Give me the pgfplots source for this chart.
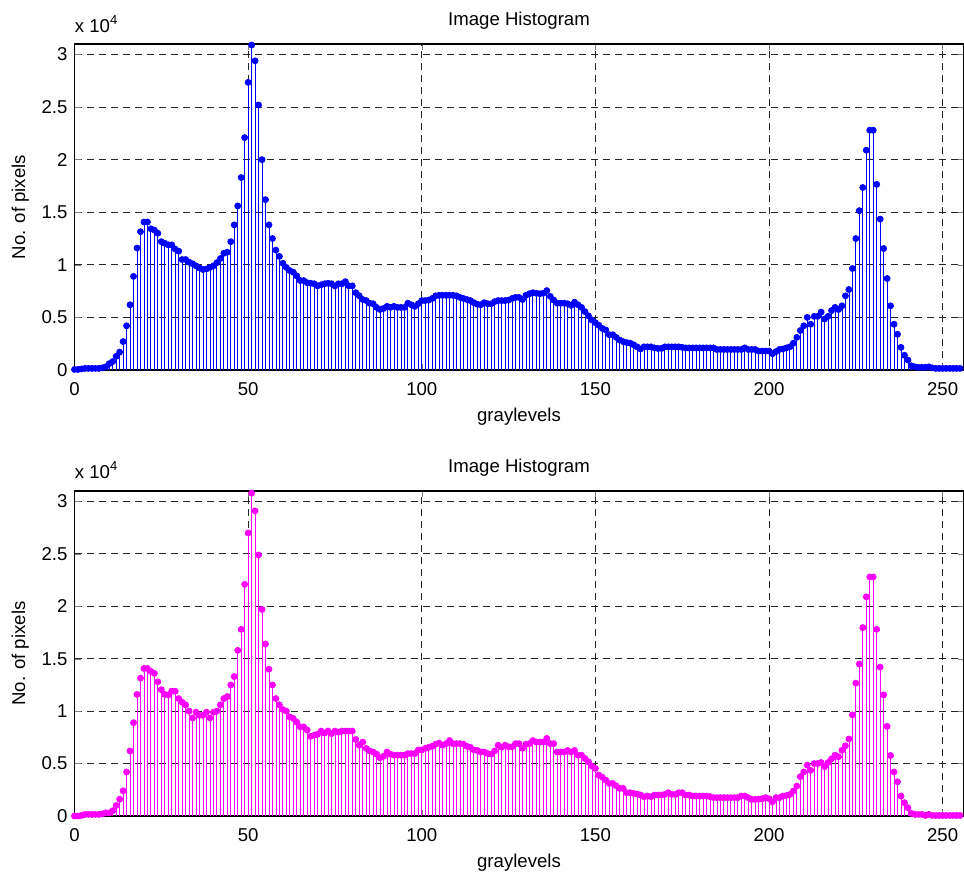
\documentclass[border=0pt]{standalone}
\usepackage{fontspec}
\setmainfont{Liberation Sans}
\usepackage{pgfplots}
\pgfplotsset{compat=1.18}
\usepackage{pgfplotstable}
\definecolor{mlblue}{RGB}{0,0,255}
\definecolor{mlmag}{RGB}{255,0,255}

\pgfplotstableread[row sep=\\]{
x y\\
0 50\\ 1 50\\ 2 100\\ 3 150\\ 4 150\\ 5 150\\ 6 150\\ 7 150\\ 8 200\\ 9 300\\
10 600\\ 11 800\\ 12 1300\\ 13 1700\\ 14 2700\\ 15 4200\\ 16 6200\\ 17 8900\\ 18 11600\\ 19 13150\\
20 14070\\ 21 14070\\ 22 13430\\ 23 13300\\ 24 13000\\ 25 12200\\ 26 12050\\ 27 11900\\ 28 11900\\ 29 11500\\
30 11300\\ 31 10500\\ 32 10500\\ 33 10250\\ 34 10100\\ 35 9900\\ 36 9700\\ 37 9550\\ 38 9600\\ 39 9750\\
40 9900\\ 41 10200\\ 42 10600\\ 43 11100\\ 44 11200\\ 45 12200\\ 46 13800\\ 47 15600\\ 48 18300\\ 49 22100\\
50 27350\\ 51 30900\\ 52 29400\\ 53 25200\\ 54 20000\\ 55 16200\\ 56 13800\\ 57 12500\\ 58 11400\\ 59 10800\\
60 10150\\ 61 9750\\ 62 9450\\ 63 9300\\ 64 8950\\ 65 8500\\ 66 8500\\ 67 8300\\ 68 8250\\ 69 8200\\
70 8000\\ 71 8100\\ 72 8200\\ 73 8250\\ 74 8200\\ 75 8000\\ 76 8200\\ 77 8200\\ 78 8400\\ 79 8000\\
80 8000\\ 81 7350\\ 82 7050\\ 83 6700\\ 84 6600\\ 85 6350\\ 86 6300\\ 87 5950\\ 88 5750\\ 89 5850\\
90 6050\\ 91 5950\\ 92 6050\\ 93 5950\\ 94 5950\\ 95 5950\\ 96 6350\\ 97 6200\\ 98 6050\\ 99 6300\\
100 6600\\ 101 6600\\ 102 6650\\ 103 6800\\ 104 7050\\ 105 7100\\ 106 7100\\ 107 7100\\ 108 7100\\ 109 7100\\
110 7050\\ 111 6900\\ 112 6800\\ 113 6700\\ 114 6600\\ 115 6400\\ 116 6250\\ 117 6200\\ 118 6400\\ 119 6300\\
120 6300\\ 121 6500\\ 122 6600\\ 123 6600\\ 124 6600\\ 125 6650\\ 126 6800\\ 127 6900\\ 128 6900\\ 129 6700\\
130 7100\\ 131 7250\\ 132 7350\\ 133 7300\\ 134 7250\\ 135 7300\\ 136 7550\\ 137 7000\\ 138 6650\\ 139 6350\\
140 6350\\ 141 6350\\ 142 6300\\ 143 6150\\ 144 6450\\ 145 6200\\ 146 5950\\ 147 5550\\ 148 5150\\ 149 4750\\
150 4500\\ 151 4250\\ 152 3950\\ 153 3800\\ 154 3350\\ 155 3350\\ 156 3100\\ 157 2850\\ 158 2700\\ 159 2600\\
160 2550\\ 161 2400\\ 162 2200\\ 163 2000\\ 164 2200\\ 165 2200\\ 166 2200\\ 167 2100\\ 168 2050\\ 169 2050\\
170 2200\\ 171 2200\\ 172 2200\\ 173 2200\\ 174 2200\\ 175 2150\\ 176 2100\\ 177 2100\\ 178 2100\\ 179 2100\\
180 2100\\ 181 2100\\ 182 2100\\ 183 2100\\ 184 2100\\ 185 1950\\ 186 1950\\ 187 1950\\ 188 1950\\ 189 1950\\
190 1950\\ 191 1950\\ 192 1950\\ 193 2100\\ 194 1950\\ 195 1950\\ 196 1950\\ 197 1800\\ 198 1800\\ 199 1800\\
200 1800\\ 201 1550\\ 202 1750\\ 203 1950\\ 204 2000\\ 205 2100\\ 206 2200\\ 207 2550\\ 208 3100\\ 209 3750\\
210 4200\\ 211 5000\\ 212 4350\\ 213 5100\\ 214 5100\\ 215 5500\\ 216 4850\\ 217 5100\\ 218 5650\\ 219 5950\\
220 5750\\ 221 6100\\ 222 7050\\ 223 7650\\ 224 9650\\ 225 12500\\ 226 15150\\ 227 17350\\ 228 20900\\ 229 22800\\
230 22800\\ 231 17650\\ 232 14350\\ 233 11550\\ 234 8700\\ 235 6100\\ 236 4350\\ 237 3400\\ 238 2150\\ 239 1400\\
240 950\\ 241 400\\ 242 300\\ 243 250\\ 244 250\\ 245 250\\ 246 300\\ 247 200\\ 248 150\\ 249 150\\
250 150\\ 251 150\\ 252 150\\ 253 150\\ 254 150\\ 255 150\\
}\topdata

\pgfplotstableread[row sep=\\]{
x y\\
0 0\\ 1 0\\ 2 50\\ 3 150\\ 4 150\\ 5 150\\ 6 150\\ 7 150\\ 8 200\\ 9 300\\
10 300\\ 11 500\\ 12 1000\\ 13 1600\\ 14 2400\\ 15 4200\\ 16 6200\\ 17 8900\\ 18 11600\\ 19 13150\\
20 14070\\ 21 14070\\ 22 13800\\ 23 13600\\ 24 12800\\ 25 12050\\ 26 11600\\ 27 11550\\ 28 11900\\ 29 11900\\
30 11200\\ 31 10850\\ 32 10600\\ 33 10000\\ 34 9350\\ 35 9900\\ 36 9600\\ 37 9600\\ 38 9900\\ 39 9350\\
40 9900\\ 41 10000\\ 42 10600\\ 43 11200\\ 44 11400\\ 45 12500\\ 46 13300\\ 47 15800\\ 48 17800\\ 49 22100\\
50 27000\\ 51 30800\\ 52 29100\\ 53 24900\\ 54 19700\\ 55 16400\\ 56 14000\\ 57 12500\\ 58 11200\\ 59 10600\\
60 10150\\ 61 10000\\ 62 9450\\ 63 9300\\ 64 8950\\ 65 8500\\ 66 8500\\ 67 8200\\ 68 7600\\ 69 7700\\
70 7800\\ 71 8100\\ 72 7900\\ 73 8100\\ 74 7850\\ 75 8100\\ 76 8000\\ 77 8100\\ 78 8100\\ 79 8100\\
80 8100\\ 81 7300\\ 82 6750\\ 83 7050\\ 84 6450\\ 85 6200\\ 86 6100\\ 87 5900\\ 88 5550\\ 89 5700\\
90 6100\\ 91 5900\\ 92 5800\\ 93 5800\\ 94 5800\\ 95 5800\\ 96 5950\\ 97 5950\\ 98 5950\\ 99 6300\\
100 6300\\ 101 6450\\ 102 6550\\ 103 6650\\ 104 6850\\ 105 6950\\ 106 6750\\ 107 6900\\ 108 7200\\ 109 6900\\
110 6900\\ 111 6900\\ 112 6850\\ 113 6650\\ 114 6550\\ 115 6300\\ 116 6250\\ 117 6100\\ 118 6100\\ 119 5950\\
120 5900\\ 121 6200\\ 122 6750\\ 123 6550\\ 124 6750\\ 125 6600\\ 126 6600\\ 127 6900\\ 128 6900\\ 129 6450\\
130 6850\\ 131 6900\\ 132 7200\\ 133 7050\\ 134 7050\\ 135 7050\\ 136 7400\\ 137 6900\\ 138 6900\\ 139 6100\\
140 6100\\ 141 6100\\ 142 6250\\ 143 6100\\ 144 6250\\ 145 5800\\ 146 5800\\ 147 5480\\ 148 5170\\ 149 4750\\
150 4530\\ 151 3900\\ 152 3700\\ 153 3420\\ 154 3100\\ 155 3100\\ 156 2870\\ 157 2630\\ 158 2630\\ 159 2220\\
160 2220\\ 161 2150\\ 162 2100\\ 163 2000\\ 164 1840\\ 165 1900\\ 166 1840\\ 167 2000\\ 168 2000\\ 169 2000\\
170 2060\\ 171 2220\\ 172 2060\\ 173 2060\\ 174 2220\\ 175 2220\\ 176 2000\\ 177 2000\\ 178 1900\\ 179 1900\\
180 1900\\ 181 1900\\ 182 1900\\ 183 1850\\ 184 1750\\ 185 1750\\ 186 1750\\ 187 1750\\ 188 1750\\ 189 1750\\
190 1750\\ 191 1750\\ 192 1900\\ 193 1900\\ 194 1750\\ 195 1580\\ 196 1580\\ 197 1600\\ 198 1650\\ 199 1750\\
200 1650\\ 201 1350\\ 202 1750\\ 203 1750\\ 204 1900\\ 205 1950\\ 206 2050\\ 207 2380\\ 208 2850\\ 209 3750\\
210 4200\\ 211 4850\\ 212 4350\\ 213 5000\\ 214 5000\\ 215 5100\\ 216 4700\\ 217 5100\\ 218 5450\\ 219 5800\\
220 5650\\ 221 6270\\ 222 6700\\ 223 7350\\ 224 9650\\ 225 12670\\ 226 14500\\ 227 17970\\ 228 20900\\ 229 22800\\
230 22800\\ 231 17800\\ 232 14200\\ 233 11550\\ 234 8550\\ 235 5770\\ 236 4200\\ 237 3260\\ 238 1900\\ 239 1270\\
240 790\\ 241 250\\ 242 150\\ 243 150\\ 244 150\\ 245 50\\ 246 150\\ 247 50\\ 248 50\\ 249 50\\
250 50\\ 251 50\\ 252 50\\ 253 50\\ 254 50\\ 255 50\\
}\botdata

\newcommand\chartfont{\fontsize{9.3}{11}\selectfont}

\pgfplotsset{
  histax/.style={
    width=444.5pt, scale only axis,
    xmin=0, xmax=256, ymin=0, ymax=31000,
    xtick={0,50,100,150,200,250},
    xticklabels={0,50,100,150,200,250},
    ytick={0,5000,10000,15000,20000,25000,30000},
    yticklabels={0,0.5,1,1.5,2,2.5,3},
    scaled y ticks=false,
    tick label style={font=\chartfont},
    xticklabel style={anchor=base, yshift=-13pt},
    tick align=inside, major tick length=3pt,
    grid=major,
    major grid style={dash pattern=on 3.5pt off 2.5pt, black!85, line width=0.4pt},
    axis line style={black, line width=0.55pt},
    clip=false,
    title={Image Histogram},
    every axis title shift=0pt,
    title style={at={(axis description cs:0.5,1)}, anchor=base, yshift=9pt, font=\chartfont},
    xlabel={graylevels},
    xlabel style={at={(axis description cs:0.5,0)}, anchor=base, yshift=-26pt, font=\chartfont},
    ylabel={No. of pixels},
    ylabel style={at={(axis description cs:-0.0555,0.5)}, anchor=base, font=\chartfont},
  }
}

\begin{document}
\begin{tikzpicture}
\path[use as bounding box] (0,0) rectangle (482pt,438.5pt);
\begin{axis}[histax, height=163pt, at={(37.25pt,253.5pt)}, anchor=south west]
\addplot[ycomb, color=mlblue, line width=0.4pt, mark=*, mark size=1.5pt, mark options={fill=mlblue, draw=mlblue}] table[x=x,y=y] {\topdata};
\node[anchor=base west, inner sep=0pt, font=\chartfont] at (rel axis cs:0,1) [yshift=5.8pt] {x 10\textsuperscript{4}};
\end{axis}
\begin{axis}[histax, height=162.5pt, at={(37.25pt,30.5pt)}, anchor=south west]
\addplot[ycomb, color=mlmag, line width=0.4pt, mark=*, mark size=1.5pt, mark options={fill=mlmag, draw=mlmag}] table[x=x,y=y] {\botdata};
\node[anchor=base west, inner sep=0pt, font=\chartfont] at (rel axis cs:0,1) [yshift=6.3pt] {x 10\textsuperscript{4}};
\end{axis}
\end{tikzpicture}
\end{document}
